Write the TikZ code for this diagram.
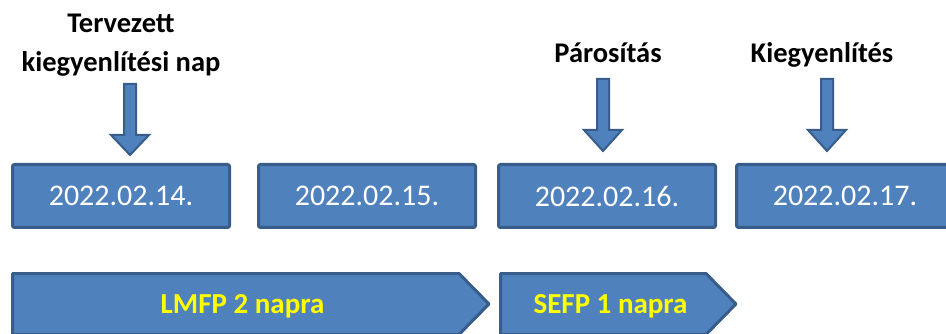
\documentclass[tikz,border=0pt]{standalone}
\usepackage{fontspec}
\setmainfont{Carlito}
\definecolor{obblue}{HTML}{4F81BD}
\definecolor{dkblue}{HTML}{385D8A}
\definecolor{lblyellow}{HTML}{FFFF00}
\tikzset{
  datebox/.style={draw=dkblue, fill=obblue, line width=3pt, rounded corners=2pt,
    minimum width=217pt, minimum height=63pt, inner sep=0pt, text=white,
    font=\fontsize{30}{32}\selectfont},
  headlabel/.style={anchor=base, inner sep=0pt, font=\fontsize{28.5}{30}\selectfont\bfseries},
  chevron/.style={draw=dkblue, fill=obblue, line width=3pt, line join=round},
  chevlabel/.style={anchor=base, inner sep=0pt, text=lblyellow, font=\fontsize{29}{30}\selectfont\bfseries},
  blockarrow/.style={draw=dkblue, fill=obblue, line width=2pt, line join=miter}
}
\newcommand{\myblockarrow}[4]{%
  \draw[blockarrow] (#1-6,#2) -- (#1+6,#2) -- (#1+6,#3) -- (#1+19,#3) -- (#1,#4)
    -- (#1-19,#3) -- (#1-6,#3) -- cycle;}
\begin{document}
\begin{tikzpicture}[x=1pt,y=-1pt]
\useasboundingbox (0,0) rectangle (946,334);
\clip (0,0) rectangle (946,334);
% date boxes
\node[datebox] (d1) at (121,196) {2022.02.14.};
\node[datebox] (d2) at (367,196) {2022.02.15.};
\node[datebox] (d3) at (607,196) {2022.02.16.};
\node[datebox] (d4) at (845,196) {2022.02.17.};
% labels
\node[headlabel] (t1) at (121,33) {Tervezett};
\node[headlabel] (t2) at (121,72) {kiegyenlítési nap};
\node[headlabel] (p) at (608,63) {Párosítás};
\node[headlabel] (k) at (822,63) {Kiegyenlítés};
% block arrows
\myblockarrow{130}{84}{135}{155}
\myblockarrow{603}{79}{130}{151}
\myblockarrow{827}{79}{130}{151}
% chevrons
\draw[chevron] (12.5,273.5) -- (459,273.5) -- (489,304) -- (459,334.5) -- (12.5,334.5) -- cycle;
\draw[chevron] (500.5,273.5) -- (706,273.5) -- (736,304) -- (706,334.5) -- (500.5,334.5) -- cycle;
\node[chevlabel] (c1) at (242.5,313) {LMFP 2 napra};
\node[chevlabel] (c2) at (610.5,313) {SEFP 1 napra};
\end{tikzpicture}
\end{document}
